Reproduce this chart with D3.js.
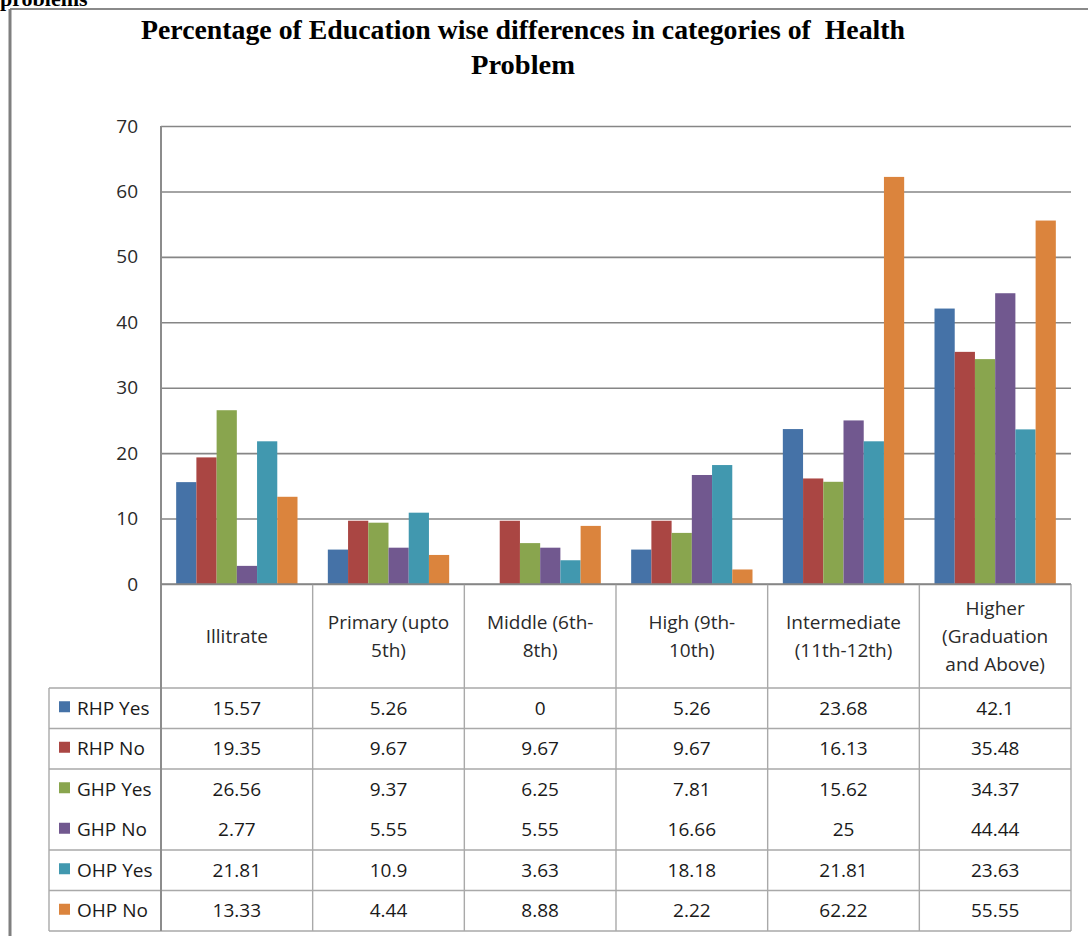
<!DOCTYPE html>
<html>
<head>
<meta charset="utf-8">
<script src="https://cdn.jsdelivr.net/npm/d3@7"></script>
<style>
  html, body { margin: 0; padding: 0; background: #fff; }
  svg { display: block; }
  .title { white-space: pre; }
</style>
</head>
<body>
<svg id="chart" width="1088" height="936"></svg>
<script>
// Education levels (table columns / bar groups)
const categories = [
  "Illitrate",
  "Primary (upto\n5th)",
  "Middle (6th-\n8th)",
  "High (9th-\n10th)",
  "Intermediate\n(11th-12th)",
  "Higher\n(Graduation\nand Above)"
];

// Health problem series
const seriesNames = ["RHP Yes", "RHP No", "GHP Yes", "GHP No", "OHP Yes", "OHP No"];
const seriesColors = ["#4572A7", "#AA4643", "#89A54E", "#71588F", "#4198AF", "#DB843D"];

const rhpYes = [15.57, 5.26, 0, 5.26, 23.68, 42.1];
const rhpNo  = [19.35, 9.67, 9.67, 9.67, 16.13, 35.48];
const ghpYes = [26.56, 9.37, 6.25, 7.81, 15.62, 34.37];
const ghpNo  = [2.77, 5.55, 5.55, 16.66, 25, 44.44];
const ohpYes = [21.81, 10.9, 3.63, 18.18, 21.81, 23.63];
const ohpNo  = [13.33, 4.44, 8.88, 2.22, 62.22, 55.55];

const seriesValues = [rhpYes, rhpNo, ghpYes, ghpNo, ohpYes, ohpNo];

const yTicks = [0, 10, 20, 30, 40, 50, 60, 70];

const titleLines = ["Percentage of Education wise differences in categories of  Health", "Problem"];

// ---- layout ----
const svg = d3.select("#chart");
const plotLeft = 161, plotRight = 1071, plotTop = 126, plotBottom = 584;
const tableLeft = 49, tableTop = 688, tableBottom = 931;
const font = "'Open Sans', sans-serif";

const x = d3.scaleBand().domain(categories).range([plotLeft, plotRight]).padding(0);
const bw = x.bandwidth();
const x1 = d3.scaleBand().domain(seriesNames).range([bw * 0.1, bw * 0.9]).padding(0);
const y = d3.scaleLinear().domain([0, 70]).range([plotBottom, plotTop]);
const rowY = d3.scaleBand().domain(seriesNames).range([tableTop, tableBottom]).padding(0);

// outer frame
svg.append("line").attr("x1", 10).attr("x2", 1088).attr("y1", 9).attr("y2", 9)
  .attr("stroke", "#8a8a8a").attr("stroke-width", 2);
svg.append("line").attr("x1", 10).attr("x2", 10).attr("y1", 9).attr("y2", 936)
  .attr("stroke", "#7f7f7f").attr("stroke-width", 3);

// heading text running off the top edge
svg.append("text").attr("x", 0).attr("y", 6)
  .attr("font-family", "'Liberation Serif', serif").attr("font-weight", "bold")
  .attr("font-size", 22).attr("fill", "#000").text("problems");

// title
const titleY = [39, 74];
const titleW = [764, 104];
titleLines.forEach((t, i) => {
  svg.append("text")
    .attr("class", "title")
    .attr("x", 523).attr("y", titleY[i])
    .attr("text-anchor", "middle")
    .attr("font-family", "'Liberation Serif', serif")
    .attr("font-weight", "bold")
    .attr("font-size", 27)
    .attr("textLength", titleW[i])
    .attr("lengthAdjust", "spacingAndGlyphs")
    .attr("fill", "#000")
    .text(t);
});

// y axis with gridlines
const yAxis = d3.axisLeft(y).tickValues(yTicks).tickSize(-(plotRight - plotLeft)).tickPadding(23);
const gAxis = svg.append("g").attr("transform", `translate(${plotLeft},0)`).call(yAxis);
gAxis.select(".domain").remove();
gAxis.selectAll(".tick line").attr("stroke", "#868686").attr("stroke-width", 1.6);
gAxis.selectAll(".tick text")
  .attr("font-family", font).attr("font-size", 19).attr("fill", "#2a2a2a");

// bars
const groups = svg.append("g").selectAll("g")
  .data(categories).join("g")
  .attr("transform", d => `translate(${x(d)},0)`);
groups.selectAll("rect")
  .data((d, ci) => seriesNames.map((s, si) => ({ s, si, v: seriesValues[si][ci] })))
  .join("rect")
  .attr("x", d => x1(d.s))
  .attr("width", x1.bandwidth())
  .attr("y", d => y(d.v))
  .attr("height", d => y(0) - y(d.v))
  .attr("fill", d => seriesColors[d.si]);

// data table grid
const grid = svg.append("g").attr("stroke", "#a9a9a9").attr("stroke-width", 1.4);
// row boundaries (no rule between GHP Yes and GHP No)
const rowEdges = [tableTop]
  .concat(seriesNames.slice(1).map(s => rowY(s)).filter((v, i) => i !== 2))
  .concat([tableBottom]);
rowEdges.forEach(yy => {
  grid.append("line").attr("x1", tableLeft).attr("x2", plotRight).attr("y1", yy).attr("y2", yy);
});
// column boundaries
categories.forEach(c => {
  grid.append("line").attr("x1", x(c) + bw).attr("x2", x(c) + bw)
    .attr("y1", plotBottom).attr("y2", tableBottom);
});
grid.append("line").attr("x1", tableLeft).attr("x2", tableLeft)
  .attr("y1", tableTop).attr("y2", tableBottom);

// left axis line running through the table, and the zero baseline
svg.append("line").attr("x1", plotLeft).attr("x2", plotLeft).attr("y1", plotTop).attr("y2", tableBottom)
  .attr("stroke", "#8c8c8c").attr("stroke-width", 2);
svg.append("line").attr("x1", plotLeft).attr("x2", plotRight).attr("y1", plotBottom).attr("y2", plotBottom)
  .attr("stroke", "#868686").attr("stroke-width", 1.6);

// category header labels
const lineH = 28;
const headerMid = (plotBottom + tableTop) / 2;
categories.forEach(c => {
  const parts = c.split("\n");
  const t = svg.append("text")
    .attr("text-anchor", "middle")
    .attr("font-family", font).attr("font-size", 19).attr("fill", "#2a2a2a");
  parts.forEach((p, i) => {
    t.append("tspan")
      .attr("x", x(c) + bw / 2)
      .attr("y", headerMid + (i - (parts.length - 1) / 2) * lineH)
      .attr("dy", "0.35em")
      .text(p);
  });
});

// legend keys and values
seriesNames.forEach((s, si) => {
  const cy = rowY(s) + rowY.bandwidth() / 2;
  svg.append("rect").attr("x", 59).attr("y", cy - 7).attr("width", 11).attr("height", 11)
    .attr("fill", seriesColors[si]);
  svg.append("text").attr("x", 77).attr("y", cy).attr("dy", "0.35em")
    .attr("font-family", font).attr("font-size", 19).attr("fill", "#1a1a1a").text(s);
  categories.forEach((c, ci) => {
    svg.append("text")
      .attr("x", x(c) + bw / 2).attr("y", cy).attr("dy", "0.35em")
      .attr("text-anchor", "middle")
      .attr("font-family", font).attr("font-size", 19).attr("fill", "#1a1a1a")
      .text(String(seriesValues[si][ci]));
  });
});
</script>
</body>
</html>
